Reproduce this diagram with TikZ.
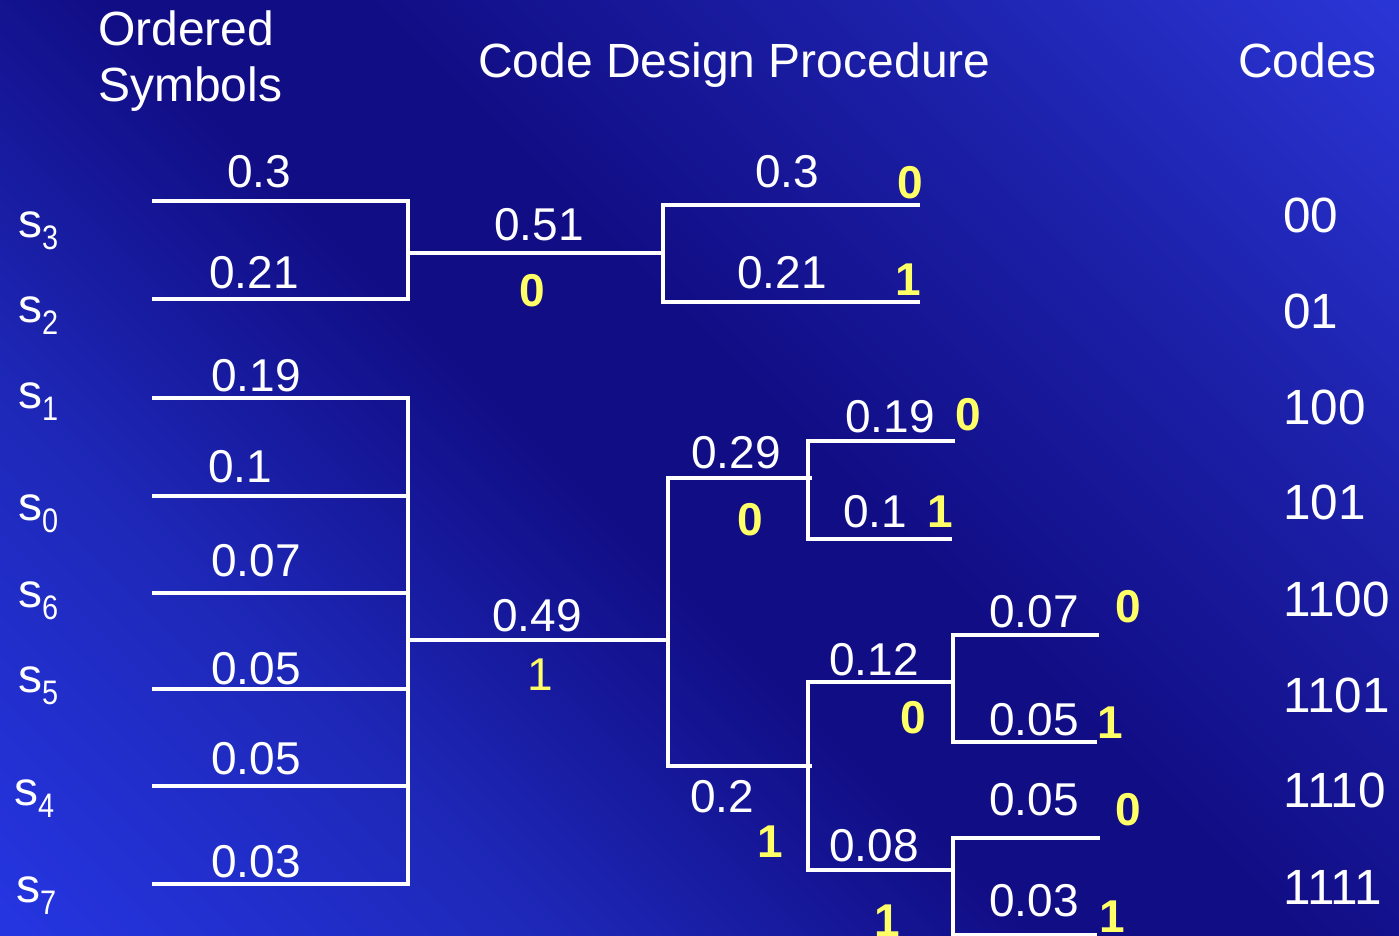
\documentclass[tikz,border=0pt]{standalone}
\usepackage{fontspec}
\setmainfont{Liberation Sans}
\usepackage{graphicx}
\definecolor{bgA}{HTML}{2838E6}
\definecolor{bgB}{HTML}{2535E0}
\definecolor{bgC}{HTML}{1E28B8}
\definecolor{bgD}{HTML}{110D85}
\definecolor{bgE}{HTML}{1C20A8}
\definecolor{bgF}{HTML}{2A35D5}
\definecolor{bitY}{HTML}{FFFF66}
\pgfdeclarehorizontalshading{bgshade}{100bp}{color(0bp)=(bgA); color(15bp)=(bgB); color(31bp)=(bgC); color(46bp)=(bgD); color(54bp)=(bgD); color(69bp)=(bgE); color(85bp)=(bgF); color(100bp)=(bgF)}
\newcommand{\symb}[1]{{\fontsize{48}{50}\selectfont s}{\fontsize{34}{36}\selectfont\raisebox{-12pt}{\scalebox{0.85}[1]{#1}}}}
\tikzset{
  num/.style={font=\fontsize{46}{50}\selectfont, text=white, anchor=base, inner sep=0pt},
  bit/.style={font=\fontsize{46}{50}\selectfont\bfseries, text=bitY, anchor=base, inner sep=0pt},
  bitr/.style={font=\fontsize{46}{50}\selectfont, text=bitY, anchor=base, inner sep=0pt},
  codetxt/.style={font=\fontsize{49.5}{52}\selectfont, text=white, anchor=base west, inner sep=0pt},
  head/.style={font=\fontsize{48}{52}\selectfont, text=white, anchor=base west, inner sep=0pt},
  symlab/.style={text=white, anchor=base west, inner sep=0pt},
  tree/.style={draw=white, line width=3.7pt, line join=miter}
}
\begin{document}
\begin{tikzpicture}[x=1pt,y=-1pt]
\useasboundingbox (0,0) rectangle (1399,936);
\fill[shading=bgshade, shading angle=45] (0,0) rectangle (1399,936);

% headers
\node[head] (h1) at (98,46) {Ordered};
\node[head] (h2) at (98,102) {Symbols};
\node[head] (h3) at (478,78) {Code Design Procedure};
\node[head] (h4) at (1238,78) {Codes};

% symbols
\node[symlab] (s3) at (18,237) {\symb{3}};
\node[symlab] (s2) at (18,322) {\symb{2}};
\node[symlab] (s1) at (18,408) {\symb{1}};
\node[symlab] (s0) at (18,520) {\symb{0}};
\node[symlab] (s6) at (18,607) {\symb{6}};
\node[symlab] (s5) at (18,692) {\symb{5}};
\node[symlab] (s4) at (14,805) {\symb{4}};
\node[symlab] (s7) at (16,902) {\symb{7}};

% coordinates of the tree
\coordinate (a1) at (152,201); \coordinate (a2) at (152,299);
\coordinate (b1) at (408,253); \coordinate (b2) at (663,253);
\coordinate (c1) at (920,205); \coordinate (c2) at (920,302);
\coordinate (l1) at (152,398); \coordinate (l2) at (152,496);
\coordinate (l3) at (152,593); \coordinate (l4) at (152,689);
\coordinate (l5) at (152,786); \coordinate (l6) at (152,884);
\coordinate (r1) at (408,398); \coordinate (r2) at (408,496);
\coordinate (r3) at (408,593); \coordinate (r4) at (408,689);
\coordinate (r5) at (408,786); \coordinate (r6) at (408,884);
\coordinate (m1) at (408,640); \coordinate (m2) at (668,640);
\coordinate (n1) at (812,478); \coordinate (n2) at (812,766);
\coordinate (p1) at (955,441); \coordinate (p2) at (952,539);
\coordinate (q1) at (952,682); \coordinate (q2) at (952,870);
\coordinate (t1) at (1099,635); \coordinate (t2) at (1097,742);
\coordinate (u1) at (1100,838); \coordinate (u2) at (1097,935);

% first group
\draw[tree] (a1) -| (408,299) -- (a2);
\draw[tree] (b1) -- (b2);
\draw[tree] (c1) -- (663,205) |- (c2);
% second group
\draw[tree] (l1) -- (r1) -- (r6) -- (l6);
\foreach \i in {2,3,4,5} { \draw[tree] (l\i) -- (r\i); }
\draw[tree] (m1) -- (m2);
\draw[tree] (n1) -- (668,478) |- (n2);
\draw[tree] (p1) -- (808,441) |- (p2);
\draw[tree] (q1) -- (808,682) |- (q2);
\draw[tree] (t1) -- (953,635) |- (t2);
\draw[tree] (u1) -- (953,838) |- (u2);

% probabilities
\node[num] (v1) at (259,188) {0.3};
\node[num] (v2) at (254,288) {0.21};
\node[num] (v3) at (256,391) {0.19};
\node[num] (v4) at (240,482) {0.1};
\node[num] (v5) at (256,576) {0.07};
\node[num] (v6) at (256,684) {0.05};
\node[num] (v7) at (256,774) {0.05};
\node[num] (v8) at (256,877) {0.03};
\node[num] (v9) at (539,240) {0.51};
\node[num] (v10) at (537,631) {0.49};
\node[num] (v11) at (787,188) {0.3};
\node[num] (v12) at (782,288) {0.21};
\node[num] (v13) at (736,468) {0.29};
\node[num] (v14) at (722,812) {0.2};
\node[num] (v15) at (890,432) {0.19};
\node[num] (v16) at (875,527) {0.1};
\node[num] (v17) at (874,675) {0.12};
\node[num] (v18) at (874,861) {0.08};
\node[num] (v19) at (1034,627) {0.07};
\node[num] (v20) at (1034,735) {0.05};
\node[num] (v21) at (1034,815) {0.05};
\node[num] (v22) at (1034,916) {0.03};

% bits
\node[bit] (b01) at (532,306) {0};
\node[bit] (b02) at (910,198) {0};
\node[bit] (b03) at (908,295) {1};
\node[bitr] (b04) at (540,690) {1};
\node[bit] (b05) at (750,535) {0};
\node[bit] (b06) at (968,430) {0};
\node[bit] (b07) at (940,527) {1};
\node[bit] (b08) at (770,857) {1};
\node[bit] (b09) at (913,733) {0};
\node[bit] (b10) at (1128,622) {0};
\node[bit] (b11) at (1110,738) {1};
\node[bit] (b12) at (887,936) {1};
\node[bit] (b13) at (1128,825) {0};
\node[bit] (b14) at (1112,932) {1};

% codes
\node[codetxt] (k1) at (1283,232) {00};
\node[codetxt] (k2) at (1283,328) {01};
\node[codetxt] (k3) at (1283,424) {100};
\node[codetxt] (k4) at (1283,519) {101};
\node[codetxt] (k5) at (1283,616) {1100};
\node[codetxt] (k6) at (1283,712) {1101};
\node[codetxt] (k7) at (1283,807) {1110};
\node[codetxt] (k8) at (1283,904) {1111};
\end{tikzpicture}
\end{document}
